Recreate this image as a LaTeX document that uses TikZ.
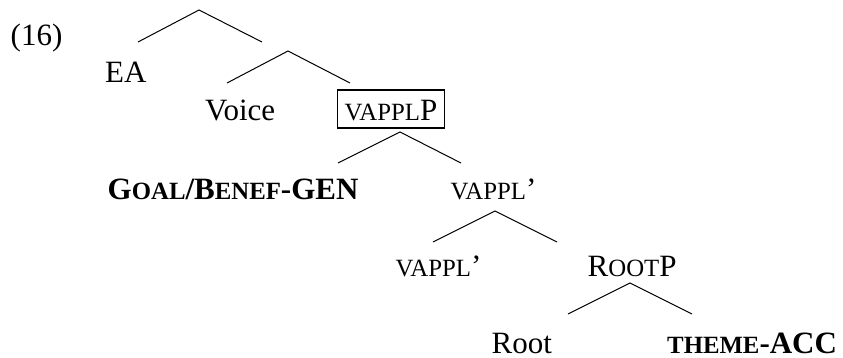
\documentclass[tikz,border=0pt]{standalone}
\usepackage{fontspec}
\setmainfont{Liberation Serif}
% reduced capitals standing in for small caps
\newcommand\fakesc[1]{{\fontsize{24.8pt}{28pt}\selectfont #1}}
\begin{document}
\begin{tikzpicture}[x=1pt,y=1pt,
  lab/.style={inner sep=0pt, anchor=base west, font=\fontsize{31pt}{36pt}\selectfont},
  boldlab/.style={lab, font=\fontsize{31pt}{36pt}\selectfont\bfseries},
  boxed/.style={lab, draw, line width=1.4pt, inner xsep=7pt, inner ysep=8pt,
                text height=22pt, text depth=0pt},
  branch/.style={line width=1pt, line join=miter}]
\useasboundingbox (0,0) rectangle (843,357);

% labels
\node[lab] (ex) at (10.5,311) {(16)};
\node[lab] (ea) at (105,275) {EA};
\node[lab] (voice) at (205,237) {Voice};
\node[boxed] (vapplp) at (337,237) {\fakesc{VAPPL}P};
\node[boldlab] (goal) at (107.5,158) {G\fakesc{OAL}/B\fakesc{ENEF}-GEN};
\node[lab] (vapplbar) at (450.5,158) {\fakesc{VAPPL}’};
\node[lab] (vapplhead) at (395.5,81) {\fakesc{VAPPL}’};
\node[lab] (rootp) at (587.5,81) {R\fakesc{OOT}P};
\node[lab] (root) at (491.5,4) {Root};
\node[boldlab] (theme) at (667,4) {\fakesc{THEME}-ACC};

% branch points
\coordinate (t1) at (199,347); \coordinate (t1l) at (138,315); \coordinate (t1r) at (262,315);
\coordinate (t2) at (288,306); \coordinate (t2l) at (227,274); \coordinate (t2r) at (350,274);
\coordinate (t3) at (400,225); \coordinate (t3l) at (338,194); \coordinate (t3r) at (461,194);
\coordinate (t4) at (495,146); \coordinate (t4l) at (433,115); \coordinate (t4r) at (557,115);
\coordinate (t5) at (630,74);  \coordinate (t5l) at (568,43);  \coordinate (t5r) at (692,43);

% branches
\draw[branch] (t1l) -- (t1) -- (t1r);
\draw[branch] (t2l) -- (t2) -- (t2r);
\draw[branch] (t3l) -- (t3) -- (t3r);
\draw[branch] (t4l) -- (t4) -- (t4r);
\draw[branch] (t5l) -- (t5) -- (t5r);
\end{tikzpicture}
\end{document}
